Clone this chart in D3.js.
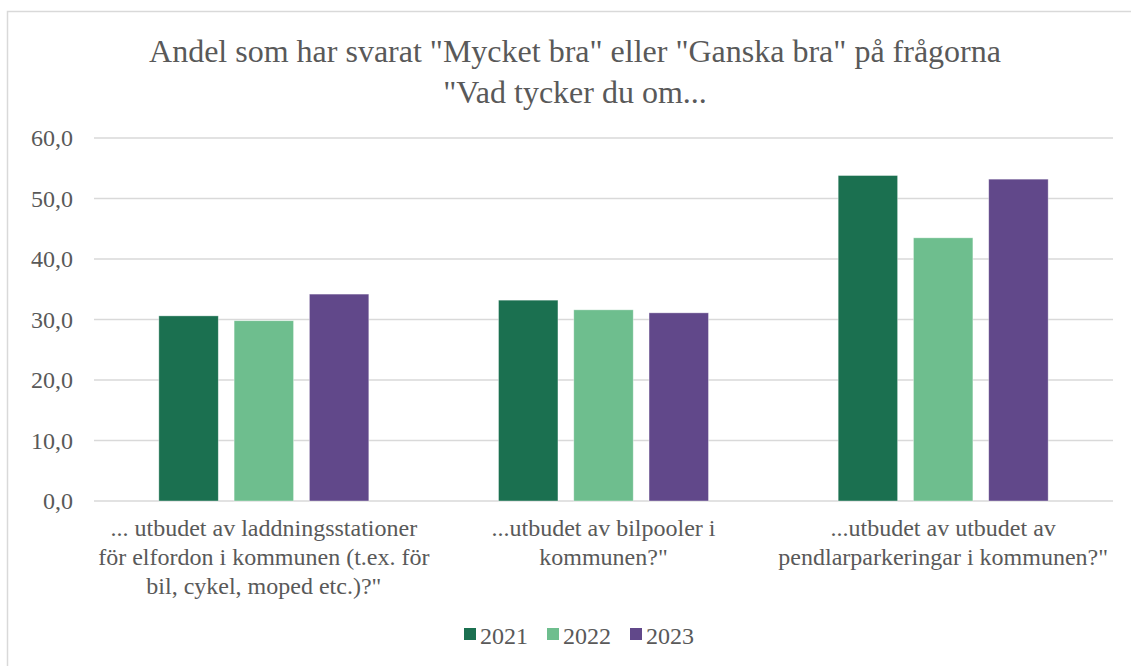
<!DOCTYPE html>
<html>
<head>
<meta charset="utf-8">
<script src="https://cdnjs.cloudflare.com/ajax/libs/d3/7.8.5/d3.min.js"></script>
</head>
<body style="margin:0;background:#fff">
<div id="chart"></div>
<script>
// Chart data
var titleLines = ['Andel som har svarat "Mycket bra" eller "Ganska bra" på frågorna', '"Vad tycker du om...'];
var categories = [
    '... utbudet av laddningsstationer\nför elfordon i kommunen (t.ex. för\nbil, cykel, moped etc.)?"',
    '...utbudet av bilpooler i\nkommunen?"',
    '...utbudet av utbudet av\npendlarparkeringar i kommunen?"'
];
var years = ["2021", "2022", "2023"];
var values2021 = [30.6, 33.2, 53.8];
var values2022 = [29.8, 31.6, 43.5];
var values2023 = [34.2, 31.1, 53.2];
var yTicks = [0, 10, 20, 30, 40, 50, 60];
var colors = ["#1B7050", "#6EBE8E", "#61488A"];

var FONT = "'Liberation Serif', 'Times New Roman', serif";
var TEXT_COLOR = "#595959";
var width = 1131;
var height = 666;
var margin = { top: 138, right: 18, bottom: 165, left: 94 };
var innerW = width - margin.left - margin.right;
var innerH = height - margin.top - margin.bottom;

var svg = d3.select("#chart").append("svg")
    .attr("width", width)
    .attr("height", height)
    .style("font-family", FONT);

// Outer border of the chart area
svg.append("rect")
    .attr("x", 7.5)
    .attr("y", 11.5)
    .attr("width", width + 20)
    .attr("height", height + 20)
    .attr("fill", "none")
    .attr("stroke", "#D9D9D9")
    .attr("stroke-width", 1.5);

// Title
var title = svg.append("text")
    .attr("text-anchor", "middle")
    .style("font-family", FONT)
    .style("font-size", "32px")
    .style("fill", TEXT_COLOR);
titleLines.forEach(function (line, i) {
    title.append("tspan")
        .attr("x", 575)
        .attr("y", 62 + i * 41)
        .text(line);
});

var g = svg.append("g")
    .attr("transform", "translate(" + margin.left + "," + margin.top + ")");

var series = [values2021, values2022, values2023];
var data = categories.map(function (c, i) {
    return { category: c, values: series.map(function (s, j) { return { year: years[j], value: s[i] }; }) };
});

var x0 = d3.scaleBand()
    .domain(categories)
    .range([0, innerW])
    .padding(0);

var x1 = d3.scaleBand()
    .domain(years)
    .range([x0.bandwidth() / 2 - 105, x0.bandwidth() / 2 + 105])
    .paddingInner(0.21);

var y = d3.scaleLinear()
    .domain([0, 60])
    .range([innerH, 0]);

// Gridlines
g.append("g")
    .selectAll("line")
    .data(yTicks)
    .enter().append("line")
    .attr("x1", 0)
    .attr("x2", innerW)
    .attr("y1", function (d) { return y(d); })
    .attr("y2", function (d) { return y(d); })
    .attr("stroke", "#D9D9D9")
    .attr("stroke-width", 1.5);

// Y axis labels
var yAxis = d3.axisLeft(y)
    .tickValues(yTicks)
    .tickSize(0)
    .tickPadding(21)
    .tickFormat(function (d) { return d3.format(".1f")(d).replace(".", ","); });

g.append("g")
    .call(yAxis)
    .attr("font-family", null)
    .call(function (ax) { ax.select(".domain").remove(); })
    .selectAll("text")
    .style("font-family", FONT)
    .style("font-size", "24px")
    .attr("fill", TEXT_COLOR);

// Bars
var groups = g.selectAll(".group")
    .data(data)
    .enter().append("g")
    .attr("class", "group")
    .attr("transform", function (d) { return "translate(" + x0(d.category) + ",0)"; });

groups.selectAll("rect")
    .data(function (d) { return d.values; })
    .enter().append("rect")
    .attr("x", function (d) { return x1(d.year); })
    .attr("y", function (d) { return y(d.value); })
    .attr("width", x1.bandwidth())
    .attr("height", function (d) { return innerH - y(d.value); })
    .attr("fill", function (d, i) { return colors[i]; })
    .attr("stroke", "#ffffff")
    .attr("stroke-opacity", 0.5)
    .attr("stroke-width", 0.75);

// Category labels
groups.append("text")
    .attr("text-anchor", "middle")
    .style("font-family", FONT)
    .style("font-size", "24px")
    .style("fill", TEXT_COLOR)
    .each(function (d) {
        var t = d3.select(this);
        d.category.split("\n").forEach(function (line, i) {
            t.append("tspan")
                .attr("x", x0.bandwidth() / 2)
                .attr("y", innerH + 35 + i * 29)
                .text(line);
        });
    });

// Legend
var legend = svg.append("g")
    .attr("transform", "translate(464, 644)");

var legendX = [0, 83, 166];
years.forEach(function (yr, i) {
    var item = legend.append("g")
        .attr("transform", "translate(" + legendX[i] + ",0)");
    item.append("rect")
        .attr("x", 0)
        .attr("y", -16)
        .attr("width", 12)
        .attr("height", 12)
        .attr("fill", colors[i]);
    item.append("text")
        .attr("x", 16)
        .attr("y", 0)
        .style("font-family", FONT)
        .style("font-size", "24px")
        .style("fill", TEXT_COLOR)
        .text(yr);
});
</script>
</body>
</html>
